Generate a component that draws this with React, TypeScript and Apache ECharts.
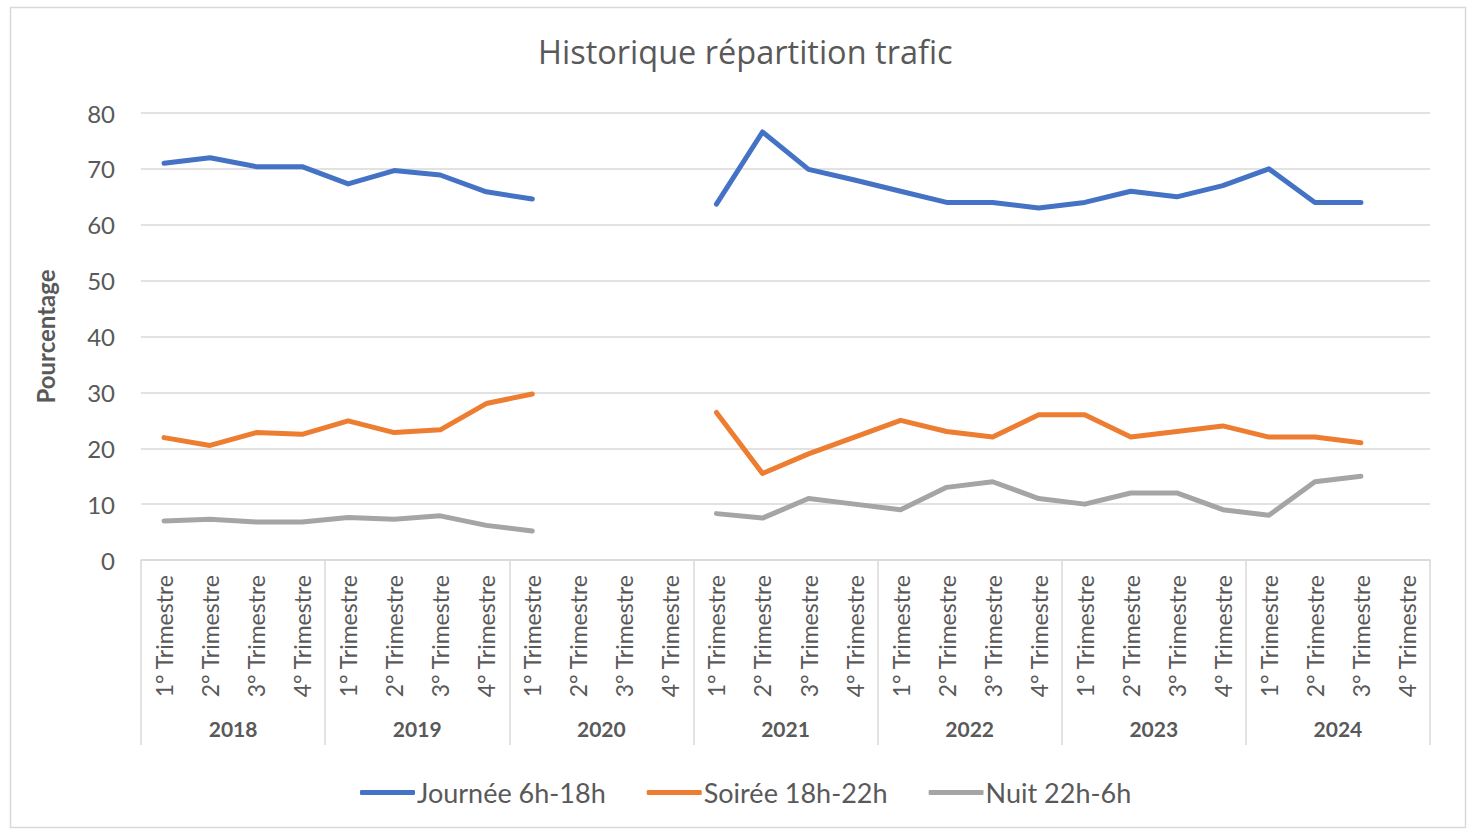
import React, { useEffect, useRef } from "react";
import * as echarts from "echarts";

const years = ["2018", "2019", "2020", "2021", "2022", "2023", "2024"];
const quarterNames = ["1° Trimestre", "2° Trimestre", "3° Trimestre", "4° Trimestre"];
const quarterLabels = years.flatMap(() => quarterNames);

const journee = [
  71, 72, 70.4, 70.4, 67.3, 69.7, 68.9, 65.9,
  64.6, null, null, null,
  63.7, 76.6, 69.9, 68, 66, 64, 64, 63, 64, 66, 65, 67, 70, 64, 64, null,
];
const soiree = [
  21.9, 20.5, 22.8, 22.5, 24.9, 22.8, 23.3, 28,
  29.7, null, null, null,
  26.4, 15.5, 19, 22, 25, 23, 22, 26, 26, 22, 23, 24, 22, 22, 21, null,
];
const nuit = [
  7, 7.3, 6.8, 6.8, 7.6, 7.3, 7.9, 6.2,
  5.2, null, null, null,
  8.3, 7.5, 11, 10, 9, 13, 14, 11, 10, 12, 12, 9, 8, 14, 15, null,
];

const seriesNames = ["Journée 6h-18h", "Soirée 18h-22h", "Nuit 22h-6h"];
const colors = ["#4472C4", "#ED7D31", "#A5A5A5"];

const FONT = "Lato, 'Open Sans', sans-serif";
const TITLE_FONT = "'Open Sans', Lato, sans-serif";
const TEXT = "#595959";

export default function App() {
  const ref = useRef<HTMLDivElement>(null);
  useEffect(() => {
    if (!ref.current) return;
    const chart = echarts.init(ref.current, undefined, { renderer: "svg" });
    const mk = (name: string, data: (number | null)[], color: string) => ({
      name,
      type: "line",
      data,
      xAxisIndex: 0,
      symbol: "none",
      connectNulls: false,
      lineStyle: { color, width: 5, cap: "round", join: "round" },
      itemStyle: { color },
    });
    chart.setOption({
      animation: false,
      backgroundColor: "#fff",
      textStyle: { fontFamily: FONT },
      title: {
        text: "Historique répartition trafic",
        left: 533,
        top: 30,
        textStyle: { fontFamily: TITLE_FONT, fontSize: 32.5, fontWeight: "normal", color: TEXT },
      },
      legend: {
        bottom: 23,
        left: 360,
        padding: 0,
        itemWidth: 55,
        itemHeight: 5,
        itemGap: 41,
        icon: "roundRect",
        data: seriesNames,
        textStyle: { fontFamily: FONT, fontSize: 27, color: TEXT, padding: [0, 0, 0, -3] },
      },
      grid: { left: 141, right: 40, top: 113, bottom: 269, containLabel: false },
      xAxis: [
        {
          type: "category",
          data: quarterLabels,
          boundaryGap: true,
          axisLine: { show: true, lineStyle: { color: "#D9D9D9", width: 1.5 } },
          axisTick: { show: false },
          axisLabel: {
            rotate: 90,
            interval: 0,
            margin: 15,
            fontFamily: FONT,
            fontSize: 23,
            color: TEXT,
          },
        },
        {
          type: "category",
          data: years,
          position: "bottom",
          offset: 185,
          boundaryGap: true,
          axisLine: { show: false },
          axisTick: {
            show: true,
            inside: true,
            length: 185,
            interval: 0,
            lineStyle: { color: "#D9D9D9", width: 1.5 },
          },
          axisLabel: {
            inside: true,
            interval: 0,
            margin: 6,
            fontFamily: FONT,
            fontSize: 21,
            fontWeight: "bold",
            color: TEXT,
          },
        },
      ],
      yAxis: {
        type: "value",
        min: 0,
        max: 80,
        interval: 10,
        name: "Pourcentage",
        nameLocation: "middle",
        nameGap: 84,
        nameRotate: 90,
        nameTextStyle: { fontFamily: FONT, fontSize: 24, fontWeight: "bold", color: TEXT },
        axisLine: { show: false },
        axisTick: { show: false },
        axisLabel: { fontFamily: FONT, fontSize: 24, color: TEXT, margin: 26 },
        splitLine: { lineStyle: { color: "#D9D9D9", width: 1.5 } },
      },
      graphic: [
        {
          type: "rect",
          shape: { x: 10.5, y: 7.5, width: 1455, height: 820 },
          style: { fill: "none", stroke: "#D9D9D9", lineWidth: 1.5 },
          silent: true,
        },
      ],
      series: [
        mk(seriesNames[0], journee, colors[0]),
        mk(seriesNames[1], soiree, colors[1]),
        mk(seriesNames[2], nuit, colors[2]),
      ],
    });
    return () => chart.dispose();
  }, []);
  return (
    <div
      ref={ref}
      style={{ position: "fixed", left: 0, top: 0, width: 1470, height: 829 }}
    />
  );
}
